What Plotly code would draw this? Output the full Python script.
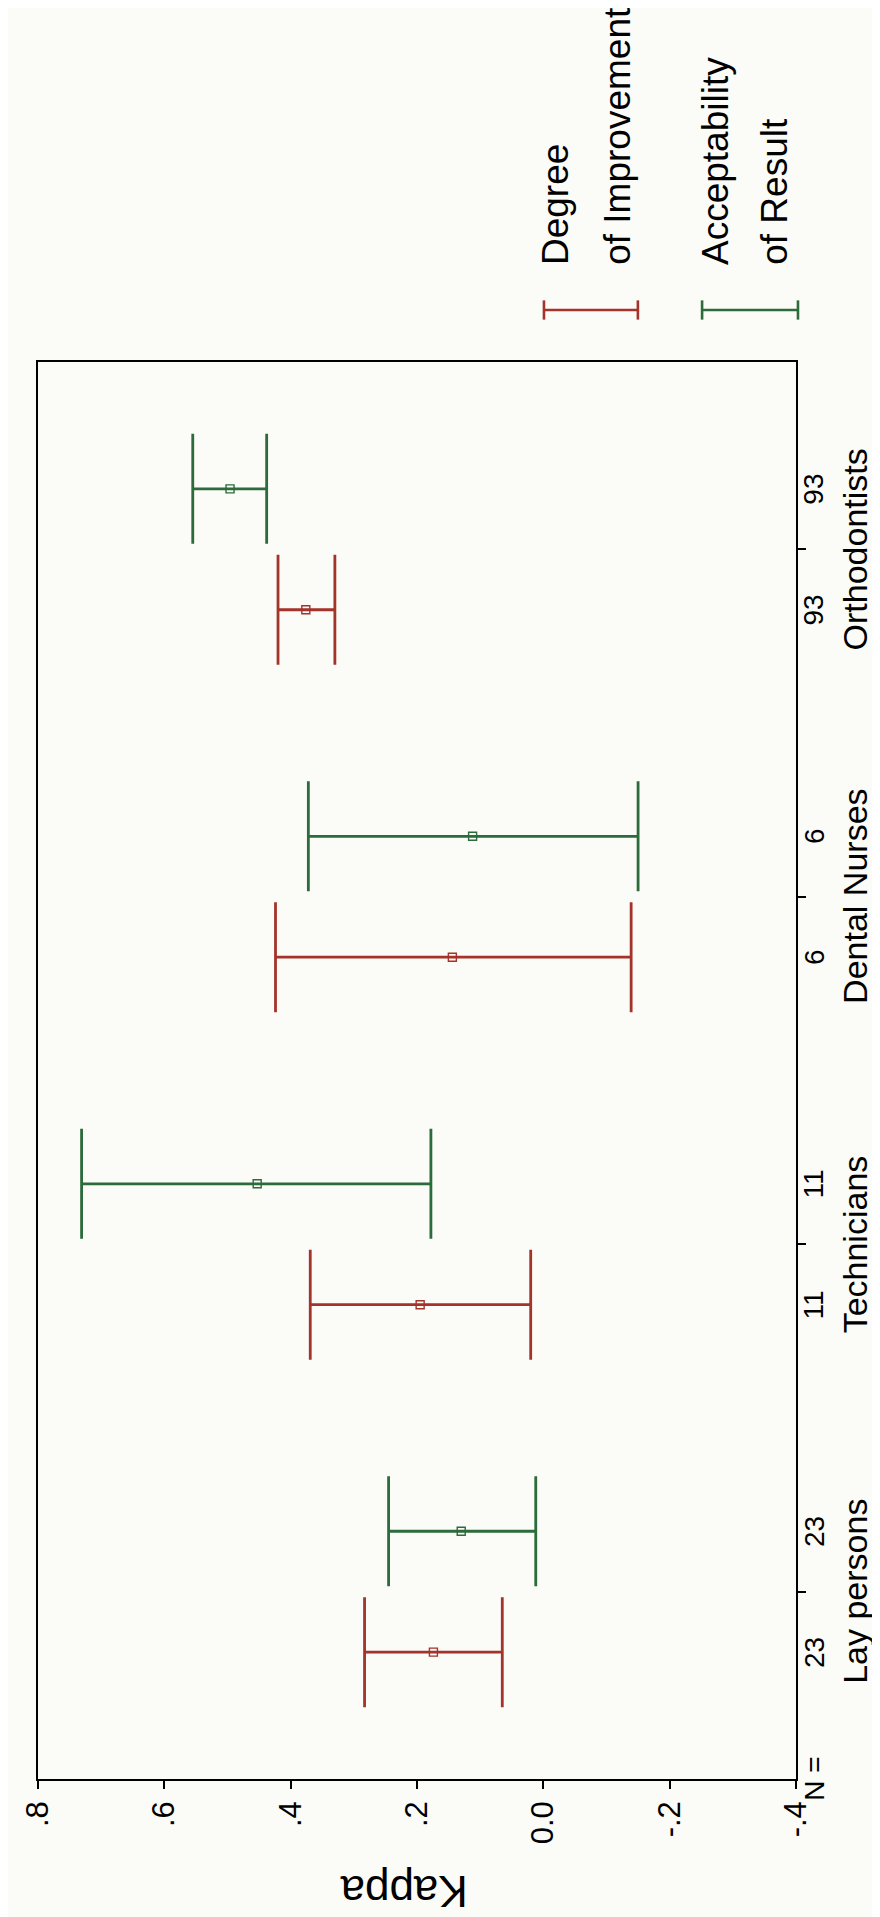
import plotly.graph_objects as go

# ---- data ----
categories = ["Lay persons", "Technicians", "Dental Nurses", "Orthodontists"]
n_counts = [23, 11, 6, 93]

degree_mean = [0.174, 0.195, 0.144, 0.376]
degree_low = [0.065, 0.020, -0.139, 0.330]
degree_high = [0.283, 0.369, 0.424, 0.420]

accept_mean = [0.130, 0.453, 0.112, 0.496]
accept_low = [0.012, 0.178, -0.150, 0.438]
accept_high = [0.245, 0.731, 0.372, 0.555]

kappa_ticks = [0.8, 0.6, 0.4, 0.2, 0.0, -0.2, -0.4]
kappa_ticktext = [".8", ".6", ".4", ".2", "0.0", "-.2", "-.4"]

legend_lines = [["Degree", "of Improvement"], ["Acceptability", "of Result"]]

# ---- styling ----
RED = "#a3332b"
GREEN = "#2c6b3b"
FONT = "Liberation Sans, Arial, Helvetica, sans-serif"
BG = "#fbfbf7"
OFFSET = 0.174

pos = list(range(1, len(categories) + 1))
red_y = [p - OFFSET for p in pos]
green_y = [p + OFFSET for p in pos]

fig = go.Figure()

def add_series(means, lows, highs, ys, color):
    fig.add_trace(go.Scatter(
        x=means, y=ys, mode="markers",
        marker=dict(symbol="square-open", size=8, color=color, line=dict(width=1.4, color=color)),
        error_x=dict(type="data", symmetric=False,
                     array=[h - m for h, m in zip(highs, means)],
                     arrayminus=[m - l for m, l in zip(means, lows)],
                     color=color, thickness=2.8, width=55),
        showlegend=False, hoverinfo="skip",
    ))

add_series(degree_mean, degree_low, degree_high, red_y, RED)
add_series(accept_mean, accept_low, accept_high, green_y, GREEN)

annotations = []
# N labels next to each bar
for ys in (red_y, green_y):
    for y, n in zip(ys, n_counts):
        annotations.append(dict(x=1.0235, xref="paper", y=y, yref="y", text=str(n),
                                textangle=-90, showarrow=False, xanchor="center", yanchor="middle",
                                font=dict(family=FONT, size=28, color="black")))
# category labels
for p, c in zip(pos, categories):
    annotations.append(dict(x=1.078, xref="paper", y=p, yref="y", text=c,
                            textangle=-90, showarrow=False, xanchor="center", yanchor="middle",
                            font=dict(family=FONT, size=34, color="black")))
# N =
annotations.append(dict(x=1.0235, xref="paper", y=0.0, yref="paper", text="N =",
                        textangle=-90, showarrow=False, xanchor="center", yanchor="middle",
                        font=dict(family=FONT, size=28, color="black")))
# axis title (upside down)
annotations.append(dict(x=0.482, xref="paper", y=-0.0795, yref="paper", text="Kappa",
                        textangle=180, showarrow=False, xanchor="center", yanchor="middle",
                        font=dict(family=FONT, size=44, color="black")))
# legend texts (one annotation per line, left-aligned at the same start)
legend_line_x = [[0.6827, 0.7635], [0.8931, 0.9713]]
for xs, lines in zip(legend_line_x, legend_lines):
    for lx, txt in zip(xs, lines):
        annotations.append(dict(x=lx, xref="paper", y=1.067, yref="paper", text=txt,
                                textangle=-90, showarrow=False, xanchor="center", yanchor="bottom",
                                font=dict(family=FONT, size=37, color="black")))

# legend symbols (horizontal error-bar glyphs)
shapes = []
for (x0, x1), color in (((0.6675, 0.7914), RED), ((0.8761, 1.0026), GREEN)):
    ly, cap = 1.0367, 0.0068
    shapes.append(dict(type="line", xref="paper", yref="paper", x0=x0, x1=x1, y0=ly, y1=ly,
                       line=dict(color=color, width=2.6)))
    for xx in (x0, x1):
        shapes.append(dict(type="line", xref="paper", yref="paper", x0=xx, x1=xx,
                           y0=ly - cap, y1=ly + cap, line=dict(color=color, width=2.6)))

fig.update_layout(
    width=880, height=1917,
    margin=dict(l=21, r=92, t=354, b=146),
    paper_bgcolor=BG, plot_bgcolor=BG,
    font=dict(family=FONT, color="black"),
    xaxis=dict(range=[0.8, -0.4], tickvals=kappa_ticks, ticktext=kappa_ticktext,
               tickangle=-90, ticks="outside", ticklen=8, tickwidth=1.5, tickcolor="black",
               showline=True, linecolor="black", linewidth=1.5, mirror=True,
               showgrid=False, zeroline=False,
               tickfont=dict(family=FONT, size=31, color="black")),
    yaxis=dict(range=[0.461, 4.539], tickvals=pos, showticklabels=False, side="right",
               ticks="outside", ticklen=8, tickwidth=1.5, tickcolor="black",
               showline=True, linecolor="black", linewidth=1.5, mirror=True,
               showgrid=False, zeroline=False),
    annotations=annotations,
    shapes=shapes,
    showlegend=False,
)

fig.write_html("out.html")
